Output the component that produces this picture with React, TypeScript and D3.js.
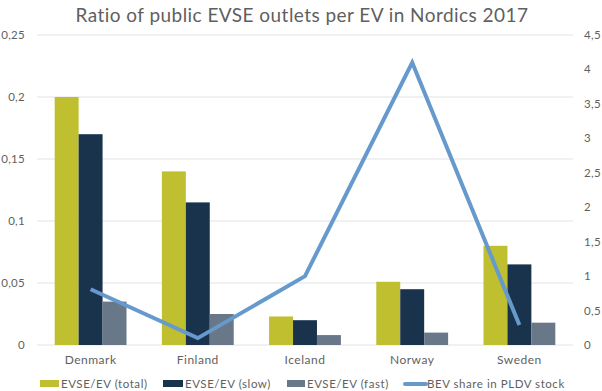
import { useMemo } from 'react';
import * as d3 from 'd3';

const countries = ['Denmark', 'Finland', 'Iceland', 'Norway', 'Sweden'];
const evseTotal = [0.2, 0.14, 0.023, 0.051, 0.08];
const evseSlow = [0.17, 0.115, 0.02, 0.045, 0.065];
const evseFast = [0.035, 0.025, 0.008, 0.01, 0.018];
const bevShare = [0.81, 0.1, 1.0, 4.1, 0.29];

const leftTicks = [0, 0.05, 0.1, 0.15, 0.2, 0.25];
const rightTicks = [0, 0.5, 1, 1.5, 2, 2.5, 3, 3.5, 4, 4.5];

const barSeries = [
  { name: 'EVSE/EV (total)', values: evseTotal, color: '#BFBF30' },
  { name: 'EVSE/EV (slow)', values: evseSlow, color: '#1A334D' },
  { name: 'EVSE/EV (fast)', values: evseFast, color: '#687888' },
];
const lineName = 'BEV share in PLDV stock';
const lineColor = '#6699CC';

const fmt = (v: number) => String(v).replace('.', ',');

const App = () => {
  const width = 602;
  const height = 391;
  const left = 37;
  const right = 573;
  const top = 35;
  const bottom = 345;
  const font = 'Lato, "Open Sans", sans-serif';
  const textColor = '#5f5f5f';

  const x = useMemo(() => d3.scaleBand<string>().domain(countries).range([left, right]).paddingInner(0.33).paddingOuter(0.165), []);
  const xs = useMemo(() => d3.scaleBand<number>().domain([0, 1, 2]).range([0, x.bandwidth()]), [x]);
  const yL = useMemo(() => d3.scaleLinear().domain([0, 0.25]).range([bottom, top]), []);
  const yR = useMemo(() => d3.scaleLinear().domain([0, 4.5]).range([bottom, top]), []);

  const linePath = useMemo(() => {
    const gen = d3.line<number>()
      .x((_, i) => (x(countries[i]) ?? 0) + x.bandwidth() / 2)
      .y(d => yR(d));
    return gen(bevShare) || undefined;
  }, [x, yR]);

  const legendItems = [
    { x: 40, textX: 61 },
    { x: 163, textX: 185 },
    { x: 287, textX: 307 },
    { x: 405, textX: 427 },
  ];

  return (
    <svg width={width} height={height} style={{ position: 'absolute', left: 0, top: 0 }}>
      <rect width={width} height={height} fill="#fff" />
      <text x={302} y={22} textAnchor="middle" fontFamily={font} fontSize={19} fill={textColor} letterSpacing={0.45}>
        Ratio of public EVSE outlets per EV in Nordics 2017
      </text>

      {/* gridlines */}
      {leftTicks.map(t => (
        <line key={t} x1={left} x2={right} y1={yL(t)} y2={yL(t)} stroke="#E3E3E3" strokeWidth={1} />
      ))}

      {/* left axis labels */}
      {leftTicks.map(t => (
        <text key={t} x={25} y={yL(t)} dy="0.35em" textAnchor="end" fontFamily={font} fontSize={11.5} fill={textColor} letterSpacing={0.3}>
          {fmt(t)}
        </text>
      ))}

      {/* right axis labels */}
      {rightTicks.map(t => (
        <text key={t} x={584} y={yR(t)} dy="0.35em" textAnchor="start" fontFamily={font} fontSize={11.5} fill={textColor} letterSpacing={0.3}>
          {fmt(t)}
        </text>
      ))}

      {/* bars */}
      {countries.map((c, i) => (
        <g key={c} transform={`translate(${x(c)},0)`}>
          {barSeries.map((s, j) => (
            <rect
              key={s.name}
              x={xs(j)}
              y={yL(s.values[i])}
              width={xs.bandwidth()}
              height={bottom - yL(s.values[i])}
              fill={s.color}
            />
          ))}
        </g>
      ))}

      <path d={linePath} fill="none" stroke={lineColor} strokeWidth={4} strokeLinejoin="miter" />

      {/* category labels */}
      {countries.map(c => (
        <text key={c} x={(x(c) ?? 0) + x.bandwidth() / 2} y={364} textAnchor="middle" fontFamily={font} fontSize={12} fill={textColor} letterSpacing={0.5}>
          {c}
        </text>
      ))}

      {/* legend */}
      {barSeries.map((s, j) => (
        <g key={s.name}>
          <rect x={legendItems[j].x} y={380} width={legendItems[j].textX - legendItems[j].x - 2} height={7} fill={s.color} />
          <text x={legendItems[j].textX} y={384} dy="0.35em" fontFamily={font} fontSize={11.5} fill={textColor} letterSpacing={0.55}>
            {s.name}
          </text>
        </g>
      ))}
      <line x1={legendItems[3].x} x2={legendItems[3].textX - 1} y1={384} y2={384} stroke={lineColor} strokeWidth={4} strokeLinecap="round" />
      <text x={legendItems[3].textX} y={384} dy="0.35em" fontFamily={font} fontSize={11.5} fill={textColor} letterSpacing={0.55}>
        {lineName}
      </text>
    </svg>
  );
};

export default App;
